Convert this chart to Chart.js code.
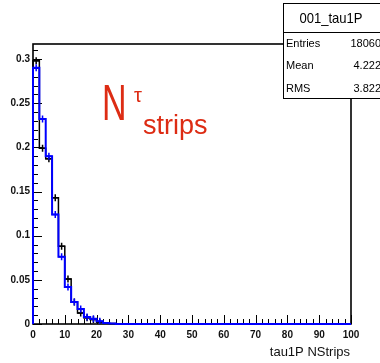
<!DOCTYPE html>
<html>
<head>
<meta charset="utf-8">
<script src="https://cdn.jsdelivr.net/npm/chart.js@4.4.1/dist/chart.umd.min.js"></script>
<style>
  html, body { margin: 0; padding: 0; background: #ffffff; }
  #wrap { width: 380px; height: 363px; position: relative; }
</style>
</head>
<body>
<div id="wrap"><canvas id="c" width="380" height="363"></canvas></div>
<script>
// Histogram binning: 50 bins of width 2 over 0..100 strips
const binWidth = 2;
const xMin = 0, xMax = 100;
const yMin = 0, yMax = 0.317;

// Normalised bin contents (black reference, blue overlay)
const blackValues = [0.298, 0.199, 0.187, 0.143, 0.088, 0.051, 0.025, 0.0125, 0.007, 0.005,
  0.002, 0.001, 0.0005, 0, 0, 0, 0, 0, 0, 0,
  0, 0, 0, 0, 0, 0, 0, 0, 0, 0,
  0, 0, 0, 0, 0, 0, 0, 0, 0, 0,
  0, 0, 0, 0, 0, 0, 0, 0, 0, 0];
const blueValues = [0.290, 0.232, 0.190, 0.124, 0.076, 0.042, 0.025, 0.017, 0.008, 0.006,
  0.003, 0.0012, 0.0005, 0, 0, 0, 0, 0, 0, 0,
  0, 0, 0, 0, 0, 0, 0, 0, 0, 0,
  0, 0, 0, 0, 0, 0, 0, 0, 0, 0,
  0, 0, 0, 0, 0, 0, 0, 0, 0, 0];

// Axis tick labels
const xTickValues = [0, 10, 20, 30, 40, 50, 60, 70, 80, 90, 100];
const xTickLabels = ['0', '10', '20', '30', '40', '50', '60', '70', '80', '90', '100'];
const yTickValues = [0, 0.05, 0.1, 0.15, 0.2, 0.25, 0.3];
const yTickLabels = ['0', '0.05', '0.1', '0.15', '0.2', '0.25', '0.3'];

// Stats box text
const statsTitle = '001_tau1P';
const statsRows = [['Entries', '18060'], ['Mean', '4.222'], ['RMS', '3.822']];
const xTitle = 'tau1P NStrips';

function stepPoints(values) {
  const pts = [{ x: xMin, y: 0 }];
  values.forEach((v, i) => pts.push({ x: xMin + i * binWidth, y: v }));
  pts.push({ x: xMin + values.length * binWidth, y: values[values.length - 1] });
  return pts;
}
function markerPoints(values) {
  const pts = [];
  values.forEach((v, i) => { if (v > 0.0015) pts.push({ x: xMin + (i + 0.5) * binWidth, y: v }); });
  return pts;
}

// Frame with inward ticks (under the histograms), stats box and the red label
const decorations = {
  id: 'decorations',
  beforeDatasetsDraw(chart) {
    const { ctx, chartArea: a, scales: { x, y } } = chart;
    ctx.save();
    ctx.strokeStyle = '#000';
    ctx.lineWidth = 1;
    // x ticks: minor every 2, major every 10
    for (let v = xMin; v <= xMax + 1e-9; v += 2) {
      const px = Math.round(x.getPixelForValue(v)) + 0.5;
      const len = (v % 10 === 0) ? 9 : 5;
      ctx.beginPath(); ctx.moveTo(px, a.bottom); ctx.lineTo(px, a.bottom - len); ctx.stroke();
    }
    // y ticks: minor every 0.01, major every 0.05
    for (let k = 0; k <= 31; k++) {
      const v = k * 0.01;
      const py = Math.round(y.getPixelForValue(v)) + 0.5;
      const len = (k % 5 === 0) ? 9 : 5;
      ctx.beginPath(); ctx.moveTo(a.left, py); ctx.lineTo(a.left + len, py); ctx.stroke();
    }
    ctx.lineWidth = 1.6;
    ctx.strokeRect(a.left, a.top, a.right - a.left, a.bottom - a.top);
    ctx.restore();
  },
  afterDraw(chart) {
    const { ctx, chartArea: a } = chart;
    ctx.save();
    // x axis title
    ctx.fillStyle = '#111';
    ctx.font = '13px "Liberation Sans", Arial, sans-serif';
    ctx.textAlign = 'right';
    ctx.textBaseline = 'alphabetic';
    ctx.fillText(xTitle, a.right - 1, 356);

    // stats box
    const bx = 283, bw = 100;
    ctx.fillStyle = '#fff';
    ctx.strokeStyle = '#000';
    ctx.lineWidth = 1;
    ctx.fillRect(bx, 3, bw, 96);
    ctx.strokeRect(bx + 0.5, 3.5, bw, 29);
    ctx.strokeRect(bx + 0.5, 32.5, bw, 66);
    ctx.fillStyle = '#000';
    ctx.save();
    ctx.translate(331, 23);
    ctx.scale(0.87, 1);
    ctx.font = '15px "Liberation Sans", Arial, sans-serif';
    ctx.textAlign = 'center';
    ctx.fillText(statsTitle, 0, 0);
    ctx.restore();
    ctx.font = '11px "Liberation Sans", Arial, sans-serif';
    const rowY = [47, 69, 92];
    statsRows.forEach((r, i) => {
      ctx.textAlign = 'left';
      ctx.fillText(r[0], 286, rowY[i]);
      ctx.textAlign = 'right';
      ctx.fillText(r[1], 381, rowY[i]);
    });

    // red label N^tau_strips
    ctx.fillStyle = '#dd2c14';
    ctx.textAlign = 'left';
    ctx.save();
    ctx.translate(102, 120);
    ctx.scale(0.68, 1);
    ctx.font = '50px "Liberation Sans", Arial, sans-serif';
    ctx.fillText('N', 0, 0);
    ctx.restore();
    ctx.font = '20px "Liberation Sans", Arial, sans-serif';
    ctx.fillText('τ', 134, 102);
    ctx.font = '27px "Liberation Sans", Arial, sans-serif';
    ctx.fillText('strips', 143, 134);
    ctx.restore();
  }
};

const tickFont = { family: '"Liberation Sans", Arial, sans-serif', size: 10, weight: 'bold' };

new Chart(document.getElementById('c'), {
  type: 'line',
  data: {
    datasets: [
      { data: stepPoints(blackValues), borderColor: '#000', borderWidth: 1.5, stepped: 'before', pointRadius: 0, fill: false, clip: false, order: 3 },
      { type: 'scatter', data: markerPoints(blackValues), pointStyle: 'cross', pointRadius: 3.5, borderColor: '#000', borderWidth: 1.5, order: 2 },
      { data: stepPoints(blueValues), borderColor: '#0000ff', borderWidth: 2, stepped: 'before', pointRadius: 0, fill: false, clip: false, order: 1 },
      { type: 'scatter', data: markerPoints(blueValues), pointStyle: 'cross', pointRadius: 3.5, borderColor: '#0000ff', borderWidth: 1.5, order: 0 }
    ]
  },
  options: {
    responsive: false,
    animation: false,
    events: [],
    layout: { padding: { top: 44, right: 29, left: 0, bottom: 0 } },
    plugins: { legend: { display: false }, tooltip: { enabled: false } },
    scales: {
      x: {
        type: 'linear', min: xMin, max: xMax,
        grid: { display: false, drawTicks: false },
        border: { display: false },
        afterBuildTicks: s => { s.ticks = xTickValues.map(v => ({ value: v })); },
        afterFit: s => { s.height = 39; },
        ticks: {
          padding: 5, maxRotation: 0, autoSkip: false, color: '#111', font: tickFont,
          callback: v => xTickLabels[xTickValues.indexOf(v)]
        }
      },
      y: {
        type: 'linear', min: yMin, max: yMax,
        grid: { display: false, drawTicks: false },
        border: { display: false },
        afterBuildTicks: s => { s.ticks = yTickValues.map(v => ({ value: v })); },
        afterFit: s => { s.width = 33; },
        ticks: {
          padding: 3, autoSkip: false, color: '#111', font: tickFont,
          callback: v => { const i = yTickValues.findIndex(t => Math.abs(t - v) < 1e-9); return i >= 0 ? yTickLabels[i] : ''; }
        }
      }
    }
  },
  plugins: [decorations]
});
</script>
</body>
</html>
